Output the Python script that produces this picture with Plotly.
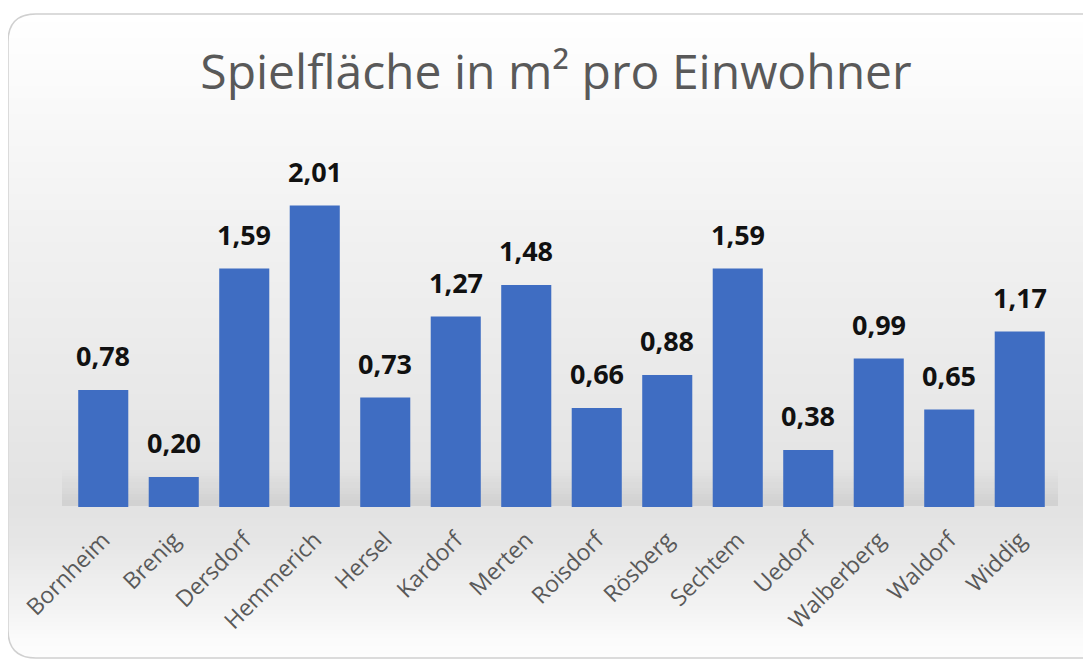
import plotly.graph_objects as go

# data
orte = ["Bornheim", "Brenig", "Dersdorf", "Hemmerich", "Hersel", "Kardorf", "Merten",
        "Roisdorf", "Rösberg", "Sechtem", "Uedorf", "Walberberg", "Waldorf", "Widdig"]
flaeche = [0.78, 0.20, 1.59, 2.01, 0.73, 1.27, 1.48, 0.66, 0.88, 1.59, 0.38, 0.99, 0.65, 1.17]
titel = "Spielfläche in m² pro Einwohner"

# the page adds an 8px body margin, so the figure is 8px smaller
OFF = 8
W, H = 1091 - OFF, 663 - OFF
ML, MR, MT, MB = 60, 36, 142, 156
PW, PH = W - ML - MR, H - MT - MB
FONT = "Open Sans"


def px(x, y):
    """screen pixel -> paper coordinates"""
    return (x - OFF - ML) / PW, (H - MB - (y - OFF)) / PH


def rect(xa, ya, xb, yb, color):
    x0, y0 = px(xa, ya)
    x1, y1 = px(xb, yb)
    return dict(type="rect", xref="paper", yref="paper", x0=x0, x1=x1, y0=y1, y1=y0,
                fillcolor=color, line_width=0, layer="below")


# background gradient stops (pixel y, gray level)
stops = [(14, 255), (120, 248), (250, 240), (400, 232), (500, 226), (540, 230),
         (600, 242), (640, 251), (670, 255)]

shapes = []
step = 4
y = 14
while y < 670:
    for (ya, ga), (yb, gb) in zip(stops, stops[1:]):
        if ya <= y <= yb:
            g = int(round(ga + (gb - ga) * (y - ya) / (yb - ya)))
            break
    shapes.append(rect(9, y, 1100, y + step + 1, f"rgb({g},{g},{g})"))
    y += step

# soft floor shadow behind the bars
for i in range(12):
    ya = 470 + i * 3
    shapes.append(rect(62, ya, 1058, ya + 3, f"rgba(0,0,0,{0.006 * (i + 1):.3f})"))

# rounded card: white outside the corners, grey border
r = 28
cx0, cy0, cx1, cy1 = 8, 14, 1100, 658
pts = {
    "a": px(cx0 + r, cy0), "b": px(cx0, cy0), "c": px(cx0, cy0 + r),
    "d": px(cx0, cy1 - r), "e": px(cx0, cy1), "f": px(cx0 + r, cy1),
}
corner_tl = "M {b[0]},{b[1]} L {a[0]},{a[1]} Q {b[0]},{b[1]} {c[0]},{c[1]} Z".format(**pts)
corner_bl = "M {e[0]},{e[1]} L {d[0]},{d[1]} Q {e[0]},{e[1]} {f[0]},{f[1]} Z".format(**pts)
for p in (corner_tl, corner_bl):
    shapes.append(dict(type="path", xref="paper", yref="paper", path=p,
                       fillcolor="white", line_width=0, layer="below"))
shapes.append(rect(8, cy1, 1100, 680, "white"))
tr = px(cx1, cy0)
br = px(cx1, cy1)
border = ("M {0},{1} L {2},{3} Q {4},{5} {6},{7} L {8},{9} Q {10},{11} {12},{13} L {14},{15}"
          .format(tr[0], tr[1], *pts["a"], *pts["b"], *pts["c"], *pts["d"], *pts["e"], *pts["f"],
                  br[0], br[1]))
shapes.append(dict(type="path", xref="paper", yref="paper", path=border,
                   line=dict(color="#d0d0d0", width=1.5), layer="below"))

fig = go.Figure(go.Bar(
    x=orte, y=flaeche,
    marker=dict(color="#3f6dc2", line_width=0),
    hoverinfo="x+y",
))

annotations = [dict(x=o, y=v, xref="x", yref="y", text=f"{v:.2f}".replace(".", ","),
                    showarrow=False, yanchor="bottom", yshift=14,
                    font=dict(family=FONT, size=27, color="#111111", weight="bold"))
               for o, v in zip(orte, flaeche)]

fig.update_layout(
    width=W, height=H,
    margin=dict(l=ML, r=MR, t=MT, b=MB),
    paper_bgcolor="white", plot_bgcolor="rgba(0,0,0,0)",
    title=dict(text=titel, x=(556 - OFF) / W, xanchor="center", y=1 - (72 - OFF) / H,
               yanchor="middle", font=dict(family=FONT, size=48, color="#595959")),
    bargap=0.29,
    showlegend=False,
    shapes=shapes,
    annotations=annotations,
    separators=",.",
)
fig.update_xaxes(tickangle=-45, tickfont=dict(family=FONT, size=23, color="#595959"),
                 showline=False, showgrid=False, ticks="", ticklabelstandoff=14)
fig.update_yaxes(range=[0, PH / 150], visible=False, showgrid=False)

fig.write_html("out.html")
